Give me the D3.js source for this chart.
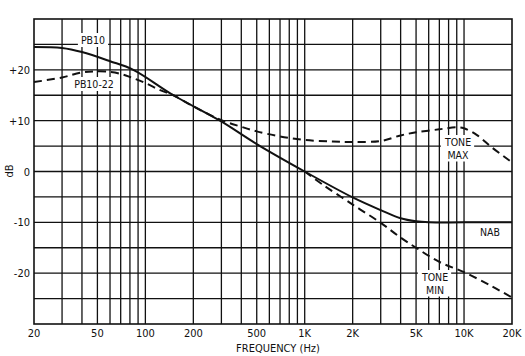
<!DOCTYPE html>
<html><head><meta charset="utf-8">
<script src="https://cdn.jsdelivr.net/npm/d3@7"></script>
<style>body{margin:0;background:#fff}svg{display:block}text{font-family:"DejaVu Sans Condensed","Liberation Sans Narrow",sans-serif;fill:#111}</style>
</head><body><svg id="c" width="525" height="356"></svg>
<script>
const xTickLabels = [[20,"20"],[50,"50"],[100,"100"],[200,"200"],[500,"500"],[1000,"1K"],[2000,"2K"],[5000,"5K"],[10000,"10K"],[20000,"20K"]];
const yTickLabels = [[20,"+20"],[10,"+10"],[0,"0"],[-10,"-10"],[-20,"-20"]];
const pb10Freq = [20,30,40,60,84,150,294,500,1000,2000,3000,4000,5000,6000,10000,20000];
const pb10Db   = [24.5,24.3,23.5,21.7,20,15,10,5.4,0,-5.1,-7.6,-9.2,-9.8,-10,-10,-10];
const pb1022Freq = [20,30,40,50,60,70,80,100,124,150,200,300,400,500,700,1000,1500,2000,3000,4000,5000,7000,9000,10000,12000,15000,20000];
const pb1022Db   = [17.6,18.5,19.5,19.7,19.6,19.2,18.6,17.4,16,15,12.8,10.1,8.8,7.9,6.9,6.2,5.9,5.8,6.0,7.1,7.7,8.3,8.7,8.5,7.2,4.7,1.8];
const toneMinFreq = [1000,1300,2000,3000,4000,5000,7000,10000,15000,20000];
const toneMinDb   = [0,-2.6,-6.5,-10.1,-13,-15,-17.8,-19.8,-22.6,-24.8];

const svg = d3.select("#c");
const x = d3.scaleLog().domain([20,20000]).range([34,512]);
const y = d3.scaleLinear().domain([-30,30]).range([324,19]);

// grid
const vgrid = [];
[10,100,1000].forEach(d=>{for(let k=1;k<=10;k++){const v=d*k; if(v>20&&v<20000) vgrid.push(v);}});
const uniq = Array.from(new Set(vgrid));
svg.append("g").selectAll("line").data(uniq).join("line")
  .attr("x1",d=>x(d)).attr("x2",d=>x(d)).attr("y1",y(30)).attr("y2",y(-30))
  .attr("stroke","#111").attr("stroke-width",1.3);
svg.append("g").selectAll("line").data(d3.range(-25,30,5)).join("line")
  .attr("x1",x(20)).attr("x2",x(20000)).attr("y1",d=>y(d)).attr("y2",d=>y(d))
  .attr("stroke","#111").attr("stroke-width",1.3);
svg.append("rect").attr("x",x(20)).attr("y",y(30)).attr("width",x(20000)-x(20)).attr("height",y(-30)-y(30))
  .attr("fill","none").attr("stroke","#111").attr("stroke-width",1.6);

// label backgrounds
function lbl(tx,ty,lines,anchor){
  const g = svg.append("g");
  const t = g.append("text").attr("x",tx).attr("y",ty).attr("text-anchor",anchor||"middle").attr("font-size",10.5);
  lines.forEach((s,i)=>t.append("tspan").attr("x",tx).attr("dy",i?12.5:0).text(s));
  const b = t.node().getBBox();
  g.insert("rect","text").attr("x",b.x-3).attr("y",b.y-1).attr("width",b.width+6).attr("height",b.height+2).attr("fill","#fff");
}
lbl(93,44,["PB10"]);
lbl(94,88,["PB10-22"]);
lbl(458,146,["TONE","MAX"]);
lbl(490,236,["NAB"]);
lbl(435,281,["TONE","MIN"]);

// curves
const line = d3.line().x(d=>x(d[0])).y(d=>y(d[1])).curve(d3.curveCatmullRom.alpha(0.5));
svg.append("path").attr("d",line(d3.zip(pb10Freq,pb10Db))).attr("fill","none").attr("stroke","#111").attr("stroke-width",2);
svg.append("path").attr("d",line(d3.zip(pb1022Freq,pb1022Db))).attr("fill","none").attr("stroke","#111").attr("stroke-width",2).attr("stroke-dasharray","8,5");
svg.append("path").attr("d",line(d3.zip(toneMinFreq,toneMinDb))).attr("fill","none").attr("stroke","#111").attr("stroke-width",2).attr("stroke-dasharray","8,5");

// axes labels
svg.append("g").selectAll("text").data(xTickLabels).join("text")
  .attr("x",d=>x(d[0])).attr("y",337).attr("text-anchor","middle").attr("font-size",11).text(d=>d[1]);
svg.append("g").selectAll("text").data(yTickLabels).join("text")
  .attr("x",30).attr("y",d=>y(d[0])+4).attr("text-anchor","end").attr("font-size",11).text(d=>d[1]);
svg.append("text").attr("x",278).attr("y",352).attr("text-anchor","middle").attr("font-size",11).text("FREQUENCY (Hz)");
svg.append("text").attr("transform","translate(13,171) rotate(-90)").attr("text-anchor","middle").attr("font-size",11).text("dB");
</script></body></html>
